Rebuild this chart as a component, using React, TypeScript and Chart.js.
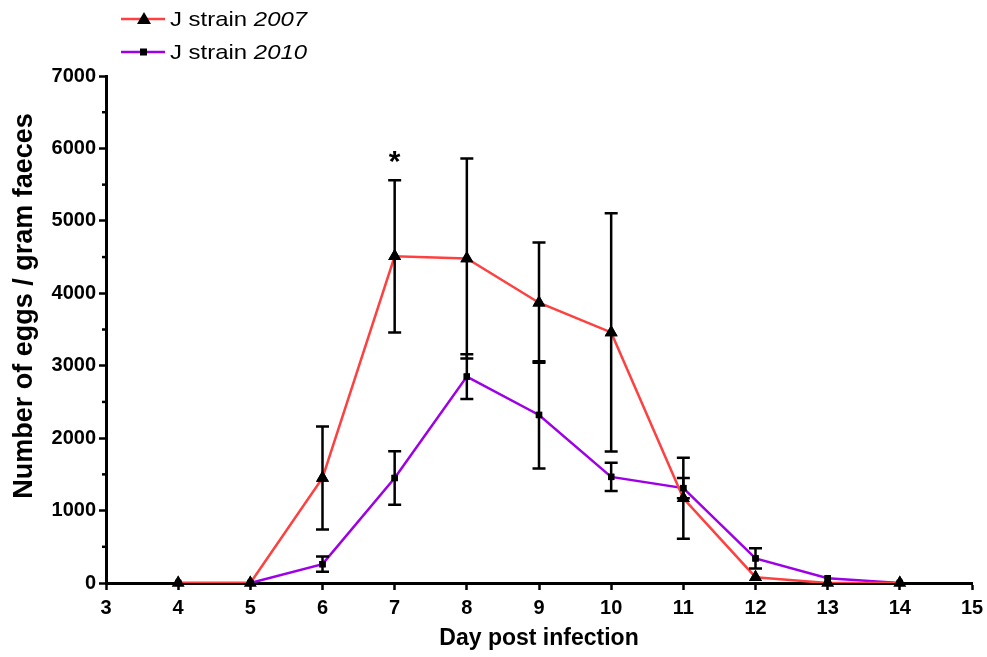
import React, { useEffect, useRef } from "react";
import { Chart, registerables } from "chart.js";

Chart.register(...registerables);

const days = [4, 5, 6, 7, 8, 9, 10, 11, 12, 13, 14];
const strain2007Mean = [0, 0, 1450, 4510, 4480, 3870, 3460, 1170, 80, 0, 0];
const strain2007Err = [0, 0, 710, 1050, 1380, 830, 1645, 560, 0, 0, 0];
const strain2010Mean = [0, 0, 260, 1450, 2850, 2320, 1465, 1310, 340, 65, 0];
const strain2010Err = [0, 0, 105, 370, 310, 740, 195, 140, 140, 0, 0];
const xTicks = [3, 4, 5, 6, 7, 8, 9, 10, 11, 12, 13, 14, 15];
const yTicks = [0, 1000, 2000, 3000, 4000, 5000, 6000, 7000];
const yMinorTicks = [500, 1500, 2500, 3500, 4500, 5500, 6500];
const legendNames = ["J strain ", "J strain "];
const legendYears = ["2007", "2010"];
const xTitle = "Day post infection";
const yTitle = "Number of eggs / gram faeces";
const asteriskDay = 7;
const asteriskValue = 5870;

const RED = "#ff4040";
const PURPLE = "#9d00e6";
const FONT = "'Liberation Sans', Arial, sans-serif";

const overlayPlugin = {
  id: "overlay",
  afterDatasetsDraw(chart: any) {
    const ctx = chart.ctx;
    const xs = chart.scales.x;
    const ys = chart.scales.y;
    ctx.save();
    // error bars
    const errs = [
      { mean: strain2007Mean, err: strain2007Err },
      { mean: strain2010Mean, err: strain2010Err },
    ];
    ctx.strokeStyle = "#000";
    ctx.lineWidth = 2.5;
    errs.forEach((s) => {
      days.forEach((d, i) => {
        const e = s.err[i];
        if (!e) return;
        const px = xs.getPixelForValue(d);
        const top = ys.getPixelForValue(s.mean[i] + e);
        const bot = ys.getPixelForValue(s.mean[i] - e);
        ctx.beginPath();
        ctx.moveTo(px, top);
        ctx.lineTo(px, bot);
        ctx.moveTo(px - 6.5, top);
        ctx.lineTo(px + 6.5, top);
        ctx.moveTo(px - 6.5, bot);
        ctx.lineTo(px + 6.5, bot);
        ctx.stroke();
      });
    });
    // redraw markers on top
    chart.data.datasets.forEach((_ds: any, di: number) => {
      const meta = chart.getDatasetMeta(di);
      meta.data.forEach((el: any) => el.draw(ctx));
    });
    // minor y ticks
    ctx.lineWidth = 2.5;
    const ax = chart.chartArea.left;
    yMinorTicks.forEach((v) => {
      const py = ys.getPixelForValue(v);
      ctx.beginPath();
      ctx.moveTo(ax, py);
      ctx.lineTo(ax - 4, py);
      ctx.stroke();
    });
    // asterisk
    ctx.fillStyle = "#000";
    ctx.font = `bold 30px ${FONT}`;
    ctx.textAlign = "center";
    ctx.textBaseline = "middle";
    ctx.fillText("*", xs.getPixelForValue(asteriskDay), ys.getPixelForValue(asteriskValue) + 5);
    // axis titles
    ctx.font = `bold 23px ${FONT}`;
    ctx.fillText(xTitle, (chart.chartArea.left + chart.chartArea.right) / 2, 639);
    ctx.save();
    ctx.translate(25, 306);
    ctx.rotate(-Math.PI / 2);
    ctx.font = `bold 27px ${FONT}`;
    ctx.fillText(yTitle, 0, 0);
    ctx.restore();
    // legend
    const colors = [RED, PURPLE];
    legendNames.forEach((name, i) => {
      const y = 19 + i * 33;
      ctx.strokeStyle = colors[i];
      ctx.lineWidth = 2.5;
      ctx.beginPath();
      ctx.moveTo(121, y);
      ctx.lineTo(165, y);
      ctx.stroke();
      ctx.fillStyle = "#000";
      if (i === 0) {
        ctx.beginPath();
        ctx.moveTo(144, y - 7);
        ctx.lineTo(151, y + 5);
        ctx.lineTo(137, y + 5);
        ctx.closePath();
        ctx.fill();
      } else {
        ctx.fillRect(140, y - 3.5, 7, 7);
      }
      ctx.save();
      ctx.translate(170, y + 1);
      ctx.scale(1.14, 1);
      ctx.textAlign = "left";
      ctx.textBaseline = "middle";
      ctx.font = `21px ${FONT}`;
      ctx.fillText(name, 0, 0);
      const w = ctx.measureText(name).width;
      ctx.font = `italic 21px ${FONT}`;
      ctx.fillText(legendYears[i], w, 0);
      ctx.restore();
    });
    ctx.restore();
  },
};

export default function App() {
  const ref = useRef<HTMLCanvasElement>(null);
  useEffect(() => {
    if (!ref.current) return;
    const chart = new Chart(ref.current, {
      type: "line",
      data: {
        datasets: [
          {
            label: "J strain 2007",
            data: days.map((d, i) => ({ x: d, y: strain2007Mean[i] })),
            borderColor: RED,
            borderWidth: 2.5,
            pointStyle: "triangle",
            pointRadius: 7.5,
            pointBackgroundColor: "#000",
            pointBorderColor: "#000",
            pointBorderWidth: 0,
            tension: 0,
          },
          {
            label: "J strain 2010",
            data: days.map((d, i) => ({ x: d, y: strain2010Mean[i] })),
            borderColor: PURPLE,
            borderWidth: 2.5,
            pointStyle: "rect",
            pointRadius: 4.5,
            pointBackgroundColor: "#000",
            pointBorderColor: "#000",
            pointBorderWidth: 0,
            tension: 0,
          },
        ],
      },
      options: {
        animation: false,
        responsive: false,
        devicePixelRatio: 1,
        layout: { padding: { top: 76, right: 15, left: 0, bottom: 0 } },
        plugins: { legend: { display: false }, tooltip: { enabled: false } },
        scales: {
          x: {
            type: "linear",
            min: 3,
            max: 15,
            afterBuildTicks: (s: any) => {
              s.ticks = xTicks.map((v) => ({ value: v }));
            },
            afterFit: (s: any) => {
              s.height = 74;
              s.paddingLeft = 0;
              s.paddingRight = 0;
            },
            grid: {
              drawOnChartArea: false,
              tickLength: 7,
              tickColor: "#000",
              tickWidth: 2.5,
            },
            border: { color: "#000", width: 3 },
            ticks: {
              color: "#000",
              font: { family: FONT, size: 20, weight: "bold" },
              padding: 6,
              maxRotation: 0,
              autoSkip: false,
              callback: (v: any) => String(v),
            },
          },
          y: {
            type: "linear",
            min: 0,
            max: 7000,
            afterBuildTicks: (s: any) => {
              s.ticks = yTicks.map((v) => ({ value: v }));
            },
            afterFit: (s: any) => {
              s.width = 106;
              s.paddingTop = 0;
              s.paddingBottom = 0;
            },
            grid: {
              drawOnChartArea: false,
              tickLength: 7,
              tickColor: "#000",
              tickWidth: 2.5,
            },
            border: { color: "#000", width: 3 },
            ticks: {
              color: "#000",
              font: { family: FONT, size: 20, weight: "bold" },
              padding: 3,
              callback: (v: any) => String(v),
            },
          },
        },
      },
      plugins: [overlayPlugin],
    });
    return () => chart.destroy();
  }, []);
  return (
    <div style={{ position: "fixed", left: 0, top: 0, width: 987, height: 657, background: "#fff" }}>
      <canvas ref={ref} width={987} height={657} style={{ width: 987, height: 657 }} />
    </div>
  );
}
